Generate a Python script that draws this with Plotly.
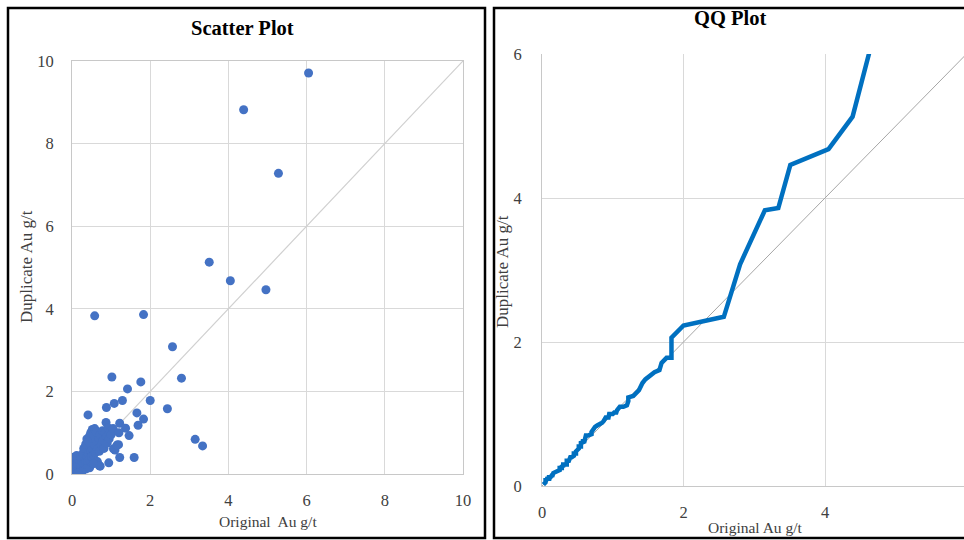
import numpy as np
import plotly.graph_objects as go

# ---- data: original vs duplicate Au g/t ----
original = [
    6.05, 4.39, 5.28, 3.51, 4.05, 4.96, 0.58, 1.83, 2.57, 2.80, 1.02, 1.76, 1.42, 2.00,
    1.29, 1.08, 0.88, 2.44, 0.41, 1.66, 1.83, 1.69, 3.15, 3.34, 1.22, 1.37, 1.46, 1.59,
    1.22, 0.94, 0.87, 1.19, 1.06, 0.72,
    0.02, 0.03, 0.05, 0.04, 0.06, 0.08, 0.10, 0.07, 0.12, 0.03, 0.15, 0.10, 0.18, 0.05,
    0.20, 0.02, 0.14, 0.22, 0.16, 0.25, 0.12, 0.28,
    0.25, 0.30, 0.22, 0.32, 0.35, 0.28, 0.38, 0.40, 0.30, 0.42, 0.45, 0.35, 0.48, 0.50,
    0.38, 0.52, 0.55, 0.42, 0.45, 0.58, 0.60, 0.48, 0.52, 0.62, 0.65, 0.55, 0.58, 0.68,
    0.70, 0.62, 0.72, 0.75, 0.65, 0.78, 0.80, 0.82, 0.85, 0.88, 0.90, 0.92, 0.95, 0.98,
    1.00, 1.05, 1.10, 1.15, 1.20, 0.70, 0.45, 0.35, 0.55, 0.25, 0.15,
]
duplicate = [
    9.71, 8.82, 7.28, 5.13, 4.68, 4.46, 3.83, 3.86, 3.08, 2.32, 2.35, 2.23, 2.06, 1.78,
    1.78, 1.71, 1.61, 1.58, 1.43, 1.48, 1.33, 1.18, 0.84, 0.68, 1.23, 1.11, 0.93, 0.40,
    0.40, 0.27, 1.25, 0.71, 0.61, 0.19,
    0.03, 0.05, 0.02, 0.08, 0.10, 0.05, 0.12, 0.15, 0.08, 0.20, 0.10, 0.22, 0.15, 0.30,
    0.12, 0.40, 0.25, 0.20, 0.35, 0.18, 0.45, 0.10,
    0.30, 0.25, 0.42, 0.35, 0.28, 0.50, 0.40, 0.30, 0.62, 0.48, 0.35, 0.72, 0.55, 0.42,
    0.85, 0.62, 0.45, 0.78, 0.92, 0.70, 0.52, 1.00, 1.08, 0.80, 0.60, 0.95, 1.10, 0.88,
    0.55, 1.02, 0.95, 0.70, 0.30, 1.05, 0.82, 0.62, 1.00, 0.90, 0.75, 1.12, 0.85, 1.02,
    0.95, 1.10, 0.58, 0.70, 1.00, 0.20, 0.15, 0.12, 0.25, 0.05, 0.02,
]
scatter_ticks = [0, 2, 4, 6, 8, 10]
qq_ticks = [0, 2, 4, 6]

qq_x = np.sort(original)
qq_y = np.sort(duplicate)

W, H = 964, 540
def px(x):
    return x / W
def py(y):
    return (H - y) / H

FONT = "Liberation Serif, Times New Roman, serif"
BLUE = "#4472C4"
QQBLUE = "#0070C0"
GRID = "#d9d9d9"

fig = go.Figure()

# 1:1 lines
fig.add_trace(go.Scatter(x=[0, 10], y=[0, 10], mode="lines",
                         line=dict(color="#d0d0d0", width=1.2),
                         xaxis="x", yaxis="y", hoverinfo="skip", showlegend=False))
fig.add_trace(go.Scatter(x=original, y=duplicate, mode="markers",
                         marker=dict(color=BLUE, size=9, line=dict(width=0)),
                         xaxis="x", yaxis="y", showlegend=False))

fig.add_trace(go.Scatter(x=[0, 6], y=[0, 6], mode="lines",
                         line=dict(color="#a6a6a6", width=1),
                         xaxis="x2", yaxis="y2", hoverinfo="skip", showlegend=False))
fig.add_trace(go.Scatter(x=qq_x, y=qq_y, mode="lines",
                         line=dict(color=QQBLUE, width=4.5),
                         xaxis="x2", yaxis="y2", showlegend=False))

tickfont = dict(family=FONT, size=16.5, color="#404040")
axis_common = dict(showgrid=True, gridcolor=GRID, gridwidth=1, zeroline=False,
                   ticks="", tickfont=tickfont, fixedrange=True, automargin=False)

fig.update_layout(
    width=W, height=H,
    margin=dict(l=0, r=0, t=0, b=0, pad=0),
    paper_bgcolor="white", plot_bgcolor="white",
    xaxis=dict(domain=[px(72), px(463)], range=[0, 10], tickvals=scatter_ticks,
               anchor="y", showline=True, linecolor="#c8c8c8", mirror=True, ticklabelstandoff=11,
               **axis_common),
    yaxis=dict(domain=[py(474), py(61)], range=[0, 10], tickvals=scatter_ticks,
               anchor="x", showline=True, linecolor="#c8c8c8", mirror=True, ticklabelstandoff=14,
               **axis_common),
    xaxis2=dict(domain=[px(542), 1.0], range=[0, (964 - 542) / 70.75], tickvals=qq_ticks,
                anchor="y2", showline=True, linecolor="#c8c8c8", ticklabelstandoff=11,
                **axis_common),
    yaxis2=dict(domain=[py(486), py(54)], range=[0, 6], tickvals=qq_ticks,
                anchor="x2", showline=True, linecolor="#c8c8c8", ticklabelstandoff=16,
                **axis_common),
)

# panel borders
fig.add_shape(type="rect", xref="paper", yref="paper",
              x0=px(8), x1=px(485), y0=py(538), y1=py(8),
              line=dict(color="black", width=2.5), fillcolor="rgba(0,0,0,0)", layer="above")
fig.add_shape(type="rect", xref="paper", yref="paper",
              x0=px(494), x1=px(975), y0=py(538), y1=py(8),
              line=dict(color="black", width=2.5), fillcolor="rgba(0,0,0,0)", layer="above")

def ann(text, x, y, size=15, bold=False, angle=0):
    fig.add_annotation(text=f"<b>{text}</b>" if bold else text,
                       xref="paper", yref="paper", x=px(x), y=py(y),
                       xanchor="center", yanchor="middle", showarrow=False,
                       textangle=angle, font=dict(family=FONT, size=size, color="#000000" if bold else "#404040"))

ann("Scatter Plot", 242, 28, size=20.5, bold=True)
ann("Original  Au g/t", 268, 521, size=15.5)
ann("Duplicate Au g/t", 26, 267, size=17, angle=-90)

ann("QQ Plot", 730, 18, size=20.5, bold=True)
ann("Original Au g/t", 755, 527, size=15.5)
ann("Duplicate Au g/t", 502, 272, size=17, angle=-90)

fig.write_html("out.html")
